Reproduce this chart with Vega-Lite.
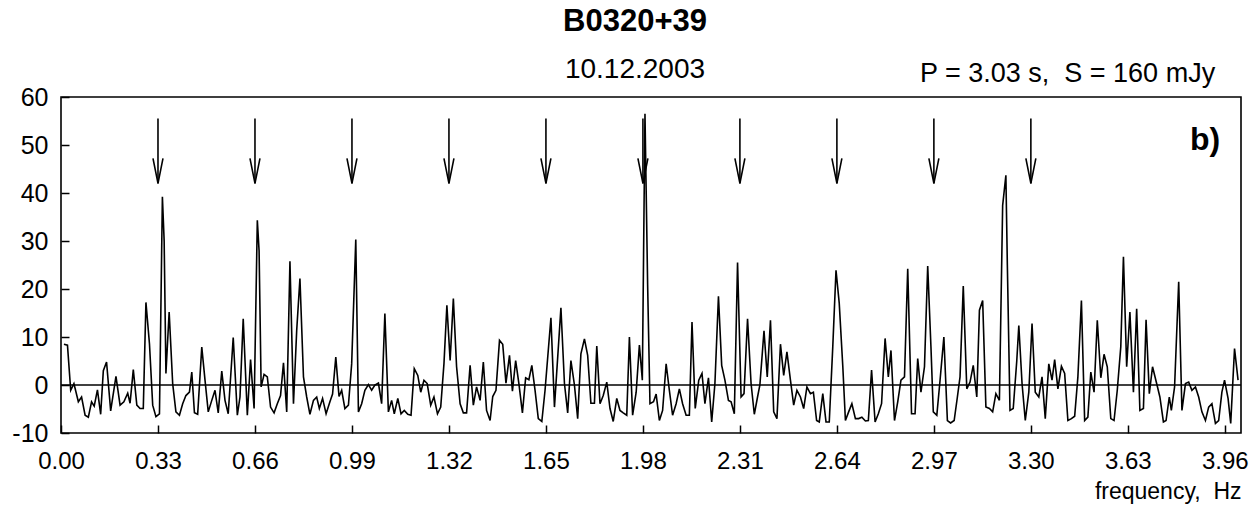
{
  "$schema": "https://vega.github.io/schema/vega-lite/v6.json",
  "width": 1180,
  "height": 336,
  "autosize": {"type": "none"},
  "padding": {"left": 61, "top": 97, "right": 13, "bottom": 77},
  "background": "white",
  "config": {"view": {"stroke": "black", "strokeWidth": 1.6}, "font": "Liberation Sans"},
  "title": {"text": "B0320+39", "subtitle": "10.12.2003", "anchor": "middle", "font": "Liberation Sans", "fontSize": 31, "fontWeight": "bold", "color": "black", "subtitleFont": "Liberation Sans", "subtitleFontSize": 28, "subtitleColor": "black", "subtitlePadding": 18, "offset": -25, "dx": -16},
  "datasets": {
    "spectrum": [
      {"f":0.010,"p":8.5},{"f":0.022,"p":8.3},{"f":0.033,"p":-1.1},{"f":0.044,"p":0.3},{"f":0.059,"p":-3.5},{"f":0.070,"p":-2.5},{"f":0.082,"p":-6.3},{"f":0.093,"p":-6.7},{"f":0.104,"p":-3.5},{"f":0.113,"p":-4.4},{"f":0.124,"p":-1},{"f":0.135,"p":-6.1},{"f":0.144,"p":3},{"f":0.155,"p":4.8},{"f":0.169,"p":-5.4},{"f":0.187,"p":1.8},{"f":0.201,"p":-4.2},{"f":0.214,"p":-3.5},{"f":0.227,"p":-1.7},{"f":0.235,"p":-3.8},{"f":0.246,"p":3.2},{"f":0.258,"p":-4.2},{"f":0.269,"p":-4.9},{"f":0.280,"p":-4.9},{"f":0.289,"p":17.2},{"f":0.301,"p":8.6},{"f":0.312,"p":-4.2},{"f":0.323,"p":-6.6},{"f":0.335,"p":-6},{"f":0.345,"p":39.2},{"f":0.351,"p":30},{"f":0.357,"p":2.4},{"f":0.368,"p":15.2},{"f":0.380,"p":0.3},{"f":0.391,"p":-5.6},{"f":0.403,"p":-6.3},{"f":0.414,"p":-3.9},{"f":0.425,"p":-2.2},{"f":0.437,"p":-1.5},{"f":0.445,"p":2.7},{"f":0.454,"p":-5.8},{"f":0.465,"p":-6.1},{"f":0.479,"p":7.9},{"f":0.490,"p":1},{"f":0.501,"p":-5.6},{"f":0.513,"p":-3.2},{"f":0.524,"p":-1.1},{"f":0.535,"p":-5.8},{"f":0.547,"p":2.9},{"f":0.558,"p":-3.2},{"f":0.569,"p":-6},{"f":0.586,"p":9.9},{"f":0.600,"p":-6.3},{"f":0.609,"p":-2.5},{"f":0.620,"p":13.8},{"f":0.634,"p":-6.3},{"f":0.645,"p":5.3},{"f":0.657,"p":-4.9},{"f":0.668,"p":34.3},{"f":0.674,"p":28},{"f":0.681,"p":-0.4},{"f":0.691,"p":2.2},{"f":0.702,"p":1.7},{"f":0.713,"p":-4.6},{"f":0.725,"p":-5.8},{"f":0.736,"p":-3.9},{"f":0.747,"p":-2.2},{"f":0.757,"p":4.6},{"f":0.768,"p":-5.6},{"f":0.779,"p":25.8},{"f":0.791,"p":-3.9},{"f":0.802,"p":11.4},{"f":0.813,"p":22.2},{"f":0.825,"p":1.7},{"f":0.836,"p":-2.5},{"f":0.847,"p":-6.1},{"f":0.859,"p":-3.2},{"f":0.870,"p":-2.5},{"f":0.879,"p":-4.9},{"f":0.890,"p":-2.8},{"f":0.902,"p":-6},{"f":0.915,"p":-3.5},{"f":0.924,"p":-1.9},{"f":0.935,"p":5.8},{"f":0.946,"p":-2.4},{"f":0.955,"p":-1.1},{"f":0.966,"p":-4.9},{"f":0.978,"p":-4.2},{"f":0.989,"p":4.4},{"f":1.003,"p":30.3},{"f":1.012,"p":-5.6},{"f":1.023,"p":-3.9},{"f":1.034,"p":-1.1},{"f":1.046,"p":0.1},{"f":1.057,"p":-1.1},{"f":1.068,"p":0},{"f":1.080,"p":0.4},{"f":1.091,"p":-3.9},{"f":1.102,"p":14.9},{"f":1.114,"p":-5.6},{"f":1.125,"p":-3.2},{"f":1.134,"p":-6},{"f":1.146,"p":-2.8},{"f":1.157,"p":-6},{"f":1.168,"p":-5.3},{"f":1.180,"p":-6.1},{"f":1.191,"p":-6.3},{"f":1.202,"p":3.4},{"f":1.214,"p":2},{"f":1.224,"p":-1.5},{"f":1.235,"p":1},{"f":1.246,"p":0.3},{"f":1.258,"p":-4.2},{"f":1.269,"p":-2.5},{"f":1.281,"p":-6},{"f":1.292,"p":-4.6},{"f":1.303,"p":4.4},{"f":1.313,"p":16.6},{"f":1.324,"p":5.1},{"f":1.335,"p":18},{"f":1.346,"p":3.8},{"f":1.358,"p":-3.9},{"f":1.369,"p":-5.8},{"f":1.380,"p":-5.8},{"f":1.392,"p":4.1},{"f":1.403,"p":-4.2},{"f":1.414,"p":-0.4},{"f":1.426,"p":-3.2},{"f":1.437,"p":4.8},{"f":1.448,"p":-5.3},{"f":1.460,"p":-7.4},{"f":1.469,"p":-2.4},{"f":1.480,"p":-1.1},{"f":1.492,"p":9.3},{"f":1.503,"p":8.5},{"f":1.514,"p":0.4},{"f":1.526,"p":6.2},{"f":1.536,"p":-1.3},{"f":1.547,"p":5.1},{"f":1.558,"p":0.3},{"f":1.570,"p":-5.8},{"f":1.581,"p":1.5},{"f":1.592,"p":1.1},{"f":1.602,"p":4.1},{"f":1.613,"p":-1.1},{"f":1.624,"p":-7},{"f":1.636,"p":-7.6},{"f":1.647,"p":-1.1},{"f":1.667,"p":14},{"f":1.679,"p":-4.6},{"f":1.701,"p":16.1},{"f":1.713,"p":0.3},{"f":1.724,"p":-5.8},{"f":1.735,"p":5.1},{"f":1.747,"p":0},{"f":1.758,"p":-7},{"f":1.769,"p":6.5},{"f":1.781,"p":9.6},{"f":1.792,"p":6.2},{"f":1.803,"p":-3.8},{"f":1.815,"p":-3.8},{"f":1.823,"p":8.1},{"f":1.834,"p":-3.9},{"f":1.845,"p":-2.2},{"f":1.857,"p":0.6},{"f":1.868,"p":-4.9},{"f":1.879,"p":-7.6},{"f":1.891,"p":-2.8},{"f":1.902,"p":-5.3},{"f":1.913,"p":-5.8},{"f":1.925,"p":-6.3},{"f":1.934,"p":10},{"f":1.945,"p":-6.3},{"f":1.957,"p":-1.5},{"f":1.968,"p":8.3},{"f":1.978,"p":1},{"f":1.987,"p":56.5},{"f":1.996,"p":21},{"f":2.004,"p":-3.9},{"f":2.016,"p":-3.5},{"f":2.025,"p":-1.9},{"f":2.036,"p":-7.4},{"f":2.047,"p":-5.3},{"f":2.059,"p":4.4},{"f":2.070,"p":-1.1},{"f":2.081,"p":-6.3},{"f":2.093,"p":-3.9},{"f":2.104,"p":-0.8},{"f":2.115,"p":-3.9},{"f":2.127,"p":-6.3},{"f":2.138,"p":-6.3},{"f":2.147,"p":13.1},{"f":2.158,"p":-4.9},{"f":2.170,"p":1},{"f":2.181,"p":2.4},{"f":2.191,"p":-3.9},{"f":2.203,"p":1.5},{"f":2.214,"p":-7.7},{"f":2.225,"p":0.3},{"f":2.237,"p":18.5},{"f":2.248,"p":4.1},{"f":2.259,"p":1},{"f":2.271,"p":-3.2},{"f":2.280,"p":-3.5},{"f":2.291,"p":-6},{"f":2.302,"p":25.5},{"f":2.314,"p":-2.5},{"f":2.324,"p":-1.8},{"f":2.336,"p":13.8},{"f":2.348,"p":0.3},{"f":2.359,"p":-6.1},{"f":2.370,"p":-2.5},{"f":2.378,"p":0},{"f":2.392,"p":11.3},{"f":2.403,"p":1.7},{"f":2.414,"p":13.5},{"f":2.425,"p":-5.6},{"f":2.436,"p":-7},{"f":2.448,"p":8.5},{"f":2.459,"p":2},{"f":2.470,"p":6.9},{"f":2.482,"p":1},{"f":2.493,"p":-4.2},{"f":2.504,"p":-1.1},{"f":2.516,"p":-2.5},{"f":2.527,"p":-4.9},{"f":2.538,"p":-0.4},{"f":2.550,"p":-1.8},{"f":2.560,"p":-1.5},{"f":2.571,"p":-7.4},{"f":2.580,"p":-7.7},{"f":2.592,"p":-1.8},{"f":2.603,"p":-7.7},{"f":2.614,"p":-7.7},{"f":2.626,"p":8},{"f":2.637,"p":23.9},{"f":2.648,"p":17},{"f":2.660,"p":4},{"f":2.669,"p":-7.4},{"f":2.680,"p":-5.6},{"f":2.691,"p":-3.9},{"f":2.703,"p":-7},{"f":2.714,"p":-7},{"f":2.725,"p":-6.7},{"f":2.737,"p":-7.5},{"f":2.747,"p":-7.4},{"f":2.758,"p":3.1},{"f":2.770,"p":-7.7},{"f":2.781,"p":-6},{"f":2.792,"p":-3.9},{"f":2.804,"p":9.7},{"f":2.815,"p":1.7},{"f":2.824,"p":7.2},{"f":2.836,"p":-7.4},{"f":2.847,"p":-3.5},{"f":2.858,"p":1},{"f":2.870,"p":1.7},{"f":2.881,"p":24.2},{"f":2.894,"p":-6},{"f":2.906,"p":-6},{"f":2.915,"p":5.5},{"f":2.926,"p":-1.5},{"f":2.938,"p":3.8},{"f":2.949,"p":24.8},{"f":2.960,"p":8},{"f":2.968,"p":-5.6},{"f":2.980,"p":-6.3},{"f":2.991,"p":1},{"f":3.004,"p":10},{"f":3.016,"p":-7.4},{"f":3.027,"p":-7.9},{"f":3.039,"p":-7.4},{"f":3.050,"p":-2.5},{"f":3.059,"p":1.7},{"f":3.070,"p":20.6},{"f":3.082,"p":-0.8},{"f":3.093,"p":0.6},{"f":3.104,"p":4.1},{"f":3.116,"p":-2.5},{"f":3.125,"p":15.6},{"f":3.136,"p":17.6},{"f":3.147,"p":-4.6},{"f":3.159,"p":-4.9},{"f":3.170,"p":-5.6},{"f":3.181,"p":-1.8},{"f":3.193,"p":-3.2},{"f":3.204,"p":37.4},{"f":3.215,"p":43.7},{"f":3.220,"p":25},{"f":3.229,"p":-5.3},{"f":3.240,"p":-4.9},{"f":3.252,"p":5},{"f":3.259,"p":12.4},{"f":3.270,"p":0.3},{"f":3.281,"p":-7.4},{"f":3.293,"p":-1.5},{"f":3.304,"p":12.8},{"f":3.315,"p":-1.5},{"f":3.327,"p":-2.5},{"f":3.338,"p":1.7},{"f":3.349,"p":-7},{"f":3.361,"p":4.4},{"f":3.372,"p":1},{"f":3.381,"p":5.3},{"f":3.392,"p":-0.8},{"f":3.404,"p":3.9},{"f":3.415,"p":2.4},{"f":3.426,"p":-7.4},{"f":3.438,"p":-7},{"f":3.449,"p":-6.5},{"f":3.460,"p":1.7},{"f":3.472,"p":17.6},{"f":3.483,"p":-7.4},{"f":3.494,"p":-6.7},{"f":3.504,"p":2.7},{"f":3.515,"p":-1.5},{"f":3.526,"p":13.5},{"f":3.538,"p":1.5},{"f":3.549,"p":6.4},{"f":3.560,"p":3.8},{"f":3.572,"p":-7},{"f":3.583,"p":-7.4},{"f":3.594,"p":-1.1},{"f":3.606,"p":8},{"f":3.615,"p":26.7},{"f":3.626,"p":3.8},{"f":3.637,"p":15.2},{"f":3.649,"p":-1.5},{"f":3.660,"p":15.9},{"f":3.671,"p":-5.3},{"f":3.683,"p":-4.9},{"f":3.692,"p":13.6},{"f":3.703,"p":-1.8},{"f":3.714,"p":3.8},{"f":3.728,"p":0.3},{"f":3.739,"p":-2.5},{"f":3.751,"p":-7.7},{"f":3.760,"p":-7.4},{"f":3.771,"p":-2.5},{"f":3.778,"p":-5.3},{"f":3.789,"p":-0.4},{"f":3.803,"p":21.5},{"f":3.814,"p":-5.3},{"f":3.826,"p":0.3},{"f":3.837,"p":0.6},{"f":3.848,"p":-1.1},{"f":3.860,"p":-0.4},{"f":3.871,"p":-2.5},{"f":3.882,"p":-5.6},{"f":3.894,"p":-7.4},{"f":3.905,"p":-4.6},{"f":3.916,"p":-3.9},{"f":3.928,"p":-8},{"f":3.939,"p":-7.4},{"f":3.950,"p":-1.5},{"f":3.959,"p":1},{"f":3.971,"p":-2.8},{"f":3.980,"p":-8},{"f":3.993,"p":7.6},{"f":4.005,"p":1}
    ],
    "arrows": [{"f":0.33},{"f":0.66},{"f":0.99},{"f":1.32},{"f":1.65},{"f":1.98},{"f":2.31},{"f":2.64},{"f":2.97},{"f":3.30}]
  },
  "layer": [
    {
      "data": {"name": "spectrum"},
      "mark": {"type": "line", "color": "black", "strokeWidth": 1.6, "clip": true},
      "encoding": {
        "x": {"field": "f", "type": "quantitative",
          "scale": {"domain": [0, 4.015], "nice": false, "zero": false},
          "axis": {"values": [0, 0.33, 0.66, 0.99, 1.32, 1.65, 1.98, 2.31, 2.64, 2.97, 3.3, 3.63, 3.96], "format": ".2f", "domain": false, "grid": false, "tickSize": -8, "tickColor": "black", "tickWidth": 1.5, "labelFont": "Liberation Sans", "labelFontSize": 24, "labelColor": "black", "labelPadding": 24, "labelFlush": false, "labelOverlap": false, "title": "frequency,\u00a0\u00a0Hz", "titleAnchor": "end", "titleFont": "Liberation Sans", "titleFontSize": 23, "titleFontWeight": "normal", "titleColor": "black", "titlePadding": 7}},
        "y": {"field": "p", "type": "quantitative",
          "scale": {"domain": [-10, 60], "nice": false, "zero": false},
          "axis": {"values": [-10, 0, 10, 20, 30, 40, 50, 60], "labelExpr": "datum.value + ''", "domain": false, "grid": false, "tickSize": -8, "tickColor": "black", "tickWidth": 1.5, "labelFont": "Liberation Sans", "labelFontSize": 25, "labelColor": "black", "labelPadding": 21, "labelFlush": false, "labelOverlap": false, "title": null}}
      }
    },
    {
      "data": {"values": [{}]},
      "mark": {"type": "rule", "color": "black", "strokeWidth": 1.6},
      "encoding": {"y": {"datum": 0, "type": "quantitative"}}
    },
    {
      "data": {"name": "arrows"},
      "mark": {"type": "rule", "color": "black", "strokeWidth": 1.6},
      "encoding": {"x": {"field": "f", "type": "quantitative"}, "y": {"datum": 55.5, "type": "quantitative"}, "y2": {"datum": 42}}
    },
    {
      "data": {"name": "arrows"},
      "mark": {"type": "point", "shape": "M-1,-5L0,0L1,-5", "size": 100, "filled": false, "color": "black", "strokeWidth": 1.6, "opacity": 1},
      "encoding": {"x": {"field": "f", "type": "quantitative"}, "y": {"datum": 42, "type": "quantitative"}}
    },
    {
      "data": {"values": [{}]},
      "mark": {"type": "text", "text": "b)", "font": "Liberation Sans", "fontSize": 32, "fontWeight": "bold", "align": "right", "baseline": "alphabetic", "color": "black"},
      "encoding": {"x": {"datum": 3.944, "type": "quantitative"}, "y": {"datum": 48.9, "type": "quantitative"}}
    },
    {
      "data": {"values": [{}]},
      "mark": {"type": "text", "text": "P = 3.03 s,\u00a0\u00a0S = 160 mJy", "font": "Liberation Sans", "fontSize": 27, "align": "right", "baseline": "alphabetic", "color": "black"},
      "encoding": {"x": {"datum": 3.927, "type": "quantitative"}, "y": {"datum": 63.1, "type": "quantitative"}}
    }
  ]
}
